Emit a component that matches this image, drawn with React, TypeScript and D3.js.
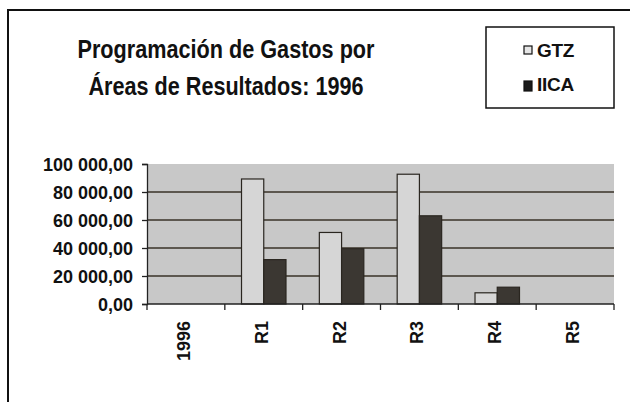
import * as d3 from 'd3';
import { useEffect, useRef } from 'react';

const categories = ['1996', 'R1', 'R2', 'R3', 'R4', 'R5'];
const seriesNames = ['GTZ', 'IICA'];
const gtzValues = [0, 89300, 51100, 92700, 8000, 0];
const iicaValues = [0, 31700, 39500, 63000, 12000, 0];
const yTicks = [0, 20000, 40000, 60000, 80000, 100000];
const titleLines = ['Programación de Gastos por', 'Áreas de Resultados: 1996'];

const W = 630;
const H = 402;
const FONT = '"Liberation Sans", Arial, sans-serif';

const App = () => {
  const chartRef = useRef<SVGSVGElement | null>(null);

  useEffect(() => {
    document.body.style.margin = '0';
    const svg = d3.select(chartRef.current);
    svg.selectAll('*').remove();

    const margin = { top: 164, left: 147, right: 16, bottom: 98 };
    const plotW = W - margin.left - margin.right;
    const plotH = H - margin.top - margin.bottom;

    const x = d3.scaleBand().domain(categories).range([0, plotW]);
    const xSeries = d3
      .scaleBand()
      .domain(seriesNames)
      .range([0, x.bandwidth()])
      .paddingInner(0)
      .paddingOuter(0.75);
    const y = d3.scaleLinear().domain([0, 100000]).range([plotH, 0]);

    const locale = d3.formatLocale({
      decimal: ',',
      thousands: ' ',
      grouping: [3],
      currency: ['', ''],
    });
    const fmt = locale.format(',.2f');

    // outer frame (cut off on the right and bottom)
    svg
      .append('rect')
      .attr('x', 8)
      .attr('y', 10)
      .attr('width', W + 20)
      .attr('height', H + 20)
      .style('fill', 'white')
      .style('stroke', '#111')
      .style('stroke-width', 2);

    // title
    svg
      .append('g')
      .selectAll('text')
      .data(titleLines)
      .enter()
      .append('text')
      .attr('x', 226)
      .attr('y', (d, i) => 58 + i * 37)
      .attr('text-anchor', 'middle')
      .attr('textLength', (d, i) => (i === 0 ? 297 : 275))
      .attr('lengthAdjust', 'spacingAndGlyphs')
      .style('font-family', FONT)
      .style('font-weight', 'bold')
      .style('font-size', '26px')
      .style('fill', '#111')
      .text((d) => d);

    // legend
    const legend = svg.append('g');
    legend
      .append('rect')
      .attr('x', 486)
      .attr('y', 27)
      .attr('width', 128)
      .attr('height', 81)
      .style('fill', 'white')
      .style('stroke', '#111')
      .style('stroke-width', 1.5);
    const legendColors = ['#e6e6e6', '#1a1a1a'];
    seriesNames.forEach((name, i) => {
      legend
        .append('rect')
        .attr('x', 524)
        .attr('y', i === 0 ? 46 : 81)
        .attr('width', 8)
        .attr('height', i === 0 ? 8 : 10)
        .style('fill', legendColors[i])
        .style('stroke', '#111')
        .style('stroke-width', 1.2);
      legend
        .append('text')
        .attr('x', 537)
        .attr('y', i === 0 ? 57 : 91)
        .style('font-family', FONT)
        .style('font-weight', 'bold')
        .style('font-size', '19px')
        .style('letter-spacing', '-0.3px')
        .style('fill', '#111')
        .text(name);
    });

    const plot = svg
      .append('g')
      .attr('transform', `translate(${margin.left}, ${margin.top})`);

    plot
      .append('rect')
      .attr('width', plotW)
      .attr('height', plotH)
      .style('fill', '#c8c8c8');

    plot
      .selectAll('.grid')
      .data(yTicks.filter((t) => t > 0 && t < 100000))
      .enter()
      .append('line')
      .attr('class', 'grid')
      .attr('x1', 0)
      .attr('x2', plotW)
      .attr('y1', (d) => y(d))
      .attr('y2', (d) => y(d))
      .style('stroke', '#3a3328')
      .style('stroke-width', 1.3);

    // bars
    const seriesValues = [gtzValues, iicaValues];
    const barFill = ['#d6d6d6', '#3b3732'];
    seriesNames.forEach((name, si) => {
      plot
        .selectAll(`.bar-${si}`)
        .data(categories)
        .enter()
        .append('rect')
        .attr('class', `bar-${si}`)
        .attr('x', (d) => (x(d) ?? 0) + (xSeries(name) ?? 0))
        .attr('y', (d, i) => y(seriesValues[si][i]))
        .attr('width', xSeries.bandwidth())
        .attr('height', (d, i) => plotH - y(seriesValues[si][i]))
        .style('fill', barFill[si])
        .style('stroke', (d, i) => (seriesValues[si][i] > 0 ? '#2a2620' : 'none'))
        .style('stroke-width', 1.2);
    });

    // y axis
    const yAxis = plot.append('g').call(
      d3
        .axisLeft(y)
        .tickValues(yTicks)
        .tickSize(5)
        .tickFormat((d) => fmt(d as number))
    );
    yAxis.select('.domain').style('stroke', '#222').style('stroke-width', 1.3);
    yAxis.selectAll('line').style('stroke', '#222').style('stroke-width', 1.3);
    yAxis
      .selectAll('text')
      .attr('x', -14)
      .attr('dy', '0.36em')
      .style('font-family', FONT)
      .style('font-weight', 'bold')
      .style('font-size', '18px')
      .style('fill', '#111');

    // x axis: ticks at category boundaries
    const xAxisG = plot.append('g').attr('transform', `translate(0, ${plotH})`);
    xAxisG
      .append('line')
      .attr('x1', 0)
      .attr('x2', plotW)
      .style('stroke', '#222')
      .style('stroke-width', 1.3);
    const boundaries = categories.map((c) => x(c) ?? 0).concat([plotW]);
    xAxisG
      .selectAll('.xtick')
      .data(boundaries)
      .enter()
      .append('line')
      .attr('class', 'xtick')
      .attr('x1', (d) => d)
      .attr('x2', (d) => d)
      .attr('y1', 0)
      .attr('y2', 6)
      .style('stroke', '#222')
      .style('stroke-width', 1.3);
    xAxisG
      .selectAll('.xlabel')
      .data(categories)
      .enter()
      .append('text')
      .attr('class', 'xlabel')
      .attr(
        'transform',
        (d) => `translate(${(x(d) ?? 0) + x.bandwidth() / 2 + 4}, 17) rotate(-90)`
      )
      .attr('text-anchor', 'end')
      .style('font-family', FONT)
      .style('font-weight', 'bold')
      .style('font-size', '18px')
      .style('fill', '#111')
      .text((d) => d);
  }, []);

  return <svg ref={chartRef} width={W} height={H} style={{ display: 'block' }} />;
};

export default App;
